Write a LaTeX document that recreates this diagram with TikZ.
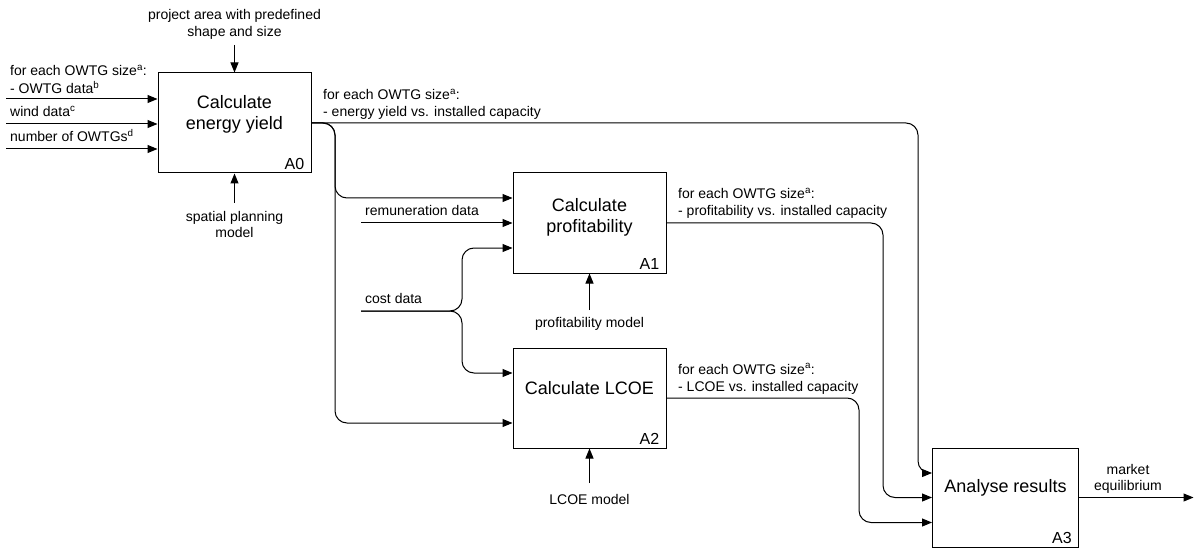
\documentclass[tikz,border=0pt]{standalone}
\usepackage{fontspec}
\setmainfont{Liberation Sans}
\usetikzlibrary{arrows.meta,positioning,calc}

\begin{document}
\begin{tikzpicture}[x=1pt,y=-1pt,
    box/.style={rectangle,draw,line width=1pt,minimum width=153pt,minimum height=100pt,inner sep=0pt},
    title/.style={align=center,inner sep=0pt,font=\fontsize{18}{21}\selectfont},
    idx/.style={anchor=south east,inner xsep=7pt,inner ysep=4pt,font=\fontsize{16}{19}\selectfont},
    txt/.style={anchor=base west,inner sep=0pt,font=\fontsize{14}{17}\selectfont},
    ctxt/.style={txt,anchor=base},
    flow/.style={line width=1pt,rounded corners=12pt},
    >={Triangle[length=10pt,width=8pt]}]
  \useasboundingbox (0,0) rectangle (1194,548);

  % activity boxes
  \node[box] (a0) at (234.5,123) {};
  \node[box] (a1) at (589.5,223) {};
  \node[box] (a2) at (589.5,398) {};
  \node[box,minimum width=146pt,minimum height=99pt] (a3) at (1005.5,497.5) {};

  \node[title] (t0) at ([yshift=9pt]a0.center) {Calculate\\energy yield};
  \node[title] (t1) at ([yshift=6pt]a1.center) {Calculate\\profitability};
  \node[title] (t2) at ([yshift=10pt]a2.center) {Calculate LCOE};
  \node[title] (t3) at ([yshift=10pt]a3.center) {Analyse results};

  \node[idx] (n0) at (a0.south east) {A0};
  \node[idx] (n1) at (a1.south east) {A1};
  \node[idx] (n2) at (a2.south east) {A2};
  \node[idx] (n3) at (a3.south east) {A3};

  % inputs of A0
  \node[txt] (owtg1) at (10,76) {for each OWTG size\textsuperscript{a}:};
  \node[txt] (owtg2) at (10,94) {- OWTG data\textsuperscript{b}};
  \node[txt] (wind) at (10,116.5) {wind data\textsuperscript{c}};
  \node[txt] (num) at (10,141.5) {number of OWTGs\textsuperscript{d}};
  \coordinate (owtgin) at (6,99);
  \coordinate (windin) at (6,124);
  \coordinate (numin) at (6,149);
  \draw[flow,->] (owtgin) -- (owtgin -| a0.west);
  \draw[flow,->] (windin) -- (windin -| a0.west);
  \draw[flow,->] (numin) -- (numin -| a0.west);

  % control and mechanism of A0
  \node[ctxt] (area1) at (234.5,20) {project area with predefined};
  \node[ctxt] (area2) at (234.5,36.5) {shape and size};
  \coordinate (areain) at (234.5,45);
  \draw[flow,->] (areain) -- (a0.north);
  \node[ctxt] (spat1) at (234.5,221.5) {spatial planning};
  \node[ctxt] (spat2) at (234.5,237.5) {model};
  \coordinate (spatin) at (234.5,203);
  \draw[flow,->] (spatin) -- (a0.south);

  % output of A0
  \node[txt] (yield1) at (323,100) {for each OWTG size\textsuperscript{a}:};
  \node[txt] (yield2) at (323,117) {- energy yield vs. installed capacity};
  \draw[flow,->] (a0.east) -- (918,123) -- (918,473) -- ([yshift=24.5pt]a3.west);
  \draw[flow,->] (a0.east) -- (335,123) -- (335,198) -- ([yshift=25pt]a1.west);
  \draw[flow,->] (a0.east) -- (335,123) -- (335,423) -- ([yshift=-25pt]a2.west);

  % inputs of A1 and A2
  \node[txt] (remu) at (365,216) {remuneration data};
  \coordinate (remuin) at (361,223);
  \draw[flow,->] (remuin) -- (a1.west);
  \node[txt] (cost) at (365,303) {cost data};
  \coordinate (costin) at (361,311);
  \draw[flow,->] (costin) -- (462,311) -- (462,248) -- ([yshift=-25pt]a1.west);
  \draw[flow,->] (costin) -- (462,311) -- (462,373) -- ([yshift=25pt]a2.west);

  % mechanisms of A1 and A2
  \node[ctxt] (profm) at (589.5,327.5) {profitability model};
  \coordinate (profin) at (589.5,310);
  \draw[flow,->] (profin) -- (a1.south);
  \node[ctxt] (lcoem) at (589.5,504) {LCOE model};
  \coordinate (lcoein) at (589.5,483);
  \draw[flow,->] (lcoein) -- (a2.south);

  % outputs of A1 and A2
  \node[txt] (prof1) at (678,199) {for each OWTG size\textsuperscript{a}:};
  \node[txt] (prof2) at (678,216) {- profitability vs. installed capacity};
  \draw[flow,->] (a1.east) -- (883,223) -- (883,497.5) -- (a3.west);
  \node[txt] (lcoe1) at (678,374) {for each OWTG size\textsuperscript{a}:};
  \node[txt] (lcoe2) at (678,391) {- LCOE vs. installed capacity};
  \draw[flow,->] (a2.east) -- (859,398) -- (859,522.5) -- ([yshift=-25pt]a3.west);

  % output of A3
  \node[ctxt] (mark1) at (1128,474.5) {market};
  \node[ctxt] (mark2) at (1128,490.5) {equilibrium};
  \coordinate (markout) at (1193.5,497.5);
  \draw[flow,->] (a3.east) -- (markout);
\end{tikzpicture}
\end{document}
